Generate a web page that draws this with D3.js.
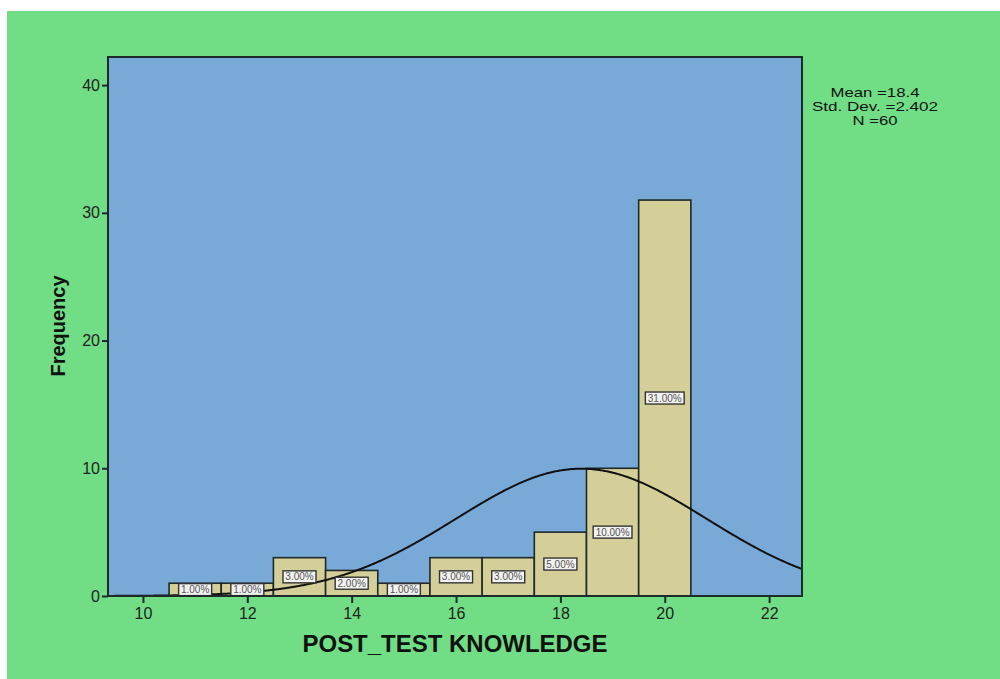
<!DOCTYPE html>
<html>
<head>
<meta charset="utf-8">
<script src="https://cdn.jsdelivr.net/npm/d3@7"></script>
<style>
  html, body { margin: 0; padding: 0; background: #ffffff; }
  svg { display: block; }
  text { font-family: "Liberation Sans", Arial, sans-serif; }
</style>
</head>
<body>
<svg id="chart" width="1000" height="679"></svg>
<script>
// Histogram of post-test knowledge scores (bins of width 1, centred on integers)
const binCenters = [11, 12, 13, 14, 15, 16, 17, 18, 19, 20];
const frequencies = [1, 1, 3, 2, 1, 3, 3, 5, 10, 31];
const barLabels = ["1.00%", "1.00%", "3.00%", "2.00%", "1.00%", "3.00%", "3.00%", "5.00%", "10.00%", "31.00%"];
const xTicks = [10, 12, 14, 16, 18, 20, 22];
const yTicks = [0, 10, 20, 30, 40];
const statLines = ["Mean =18.4", "Std. Dev. =2.402", "N =60"];
const mean = 18.4, stdDev = 2.402, n = 60, binWidth = 1;

const svg = d3.select("#chart");

// page background
svg.append("rect").attr("x", 7).attr("y", 11).attr("width", 993).attr("height", 668)
  .attr("fill", "#71de86");

const plot = { left: 108, top: 57, right: 802, bottom: 596 };

const x = d3.scaleLinear().domain([9.33, 22.63]).range([plot.left, plot.right]);
const y = d3.scaleLinear().domain([0, 42.2]).range([plot.bottom, plot.top]);

// plot area
svg.append("rect")
  .attr("x", plot.left).attr("y", plot.top)
  .attr("width", plot.right - plot.left).attr("height", plot.bottom - plot.top)
  .attr("fill", "#79a9d7");

const g = svg.append("g");

// bars
g.selectAll("rect.bar").data(binCenters).join("rect")
  .attr("class", "bar")
  .attr("x", (d) => x(d - binWidth / 2))
  .attr("width", (d) => x(d + binWidth / 2) - x(d - binWidth / 2))
  .attr("y", (d, i) => y(frequencies[i]))
  .attr("height", (d, i) => y(0) - y(frequencies[i]))
  .attr("fill", "#d4cf98")
  .attr("stroke", "#1d2a2a")
  .attr("stroke-width", 1.6);

// normal curve
const curveXs = d3.range(9.33, 22.631, 0.02);
const normal = (v) => n * binWidth / (stdDev * Math.sqrt(2 * Math.PI)) *
  Math.exp(-0.5 * Math.pow((v - mean) / stdDev, 2));
const clipId = "plotClip";
svg.append("clipPath").attr("id", clipId).append("rect")
  .attr("x", plot.left).attr("y", plot.top)
  .attr("width", plot.right - plot.left).attr("height", plot.bottom - plot.top);
g.append("path")
  .datum(curveXs)
  .attr("clip-path", `url(#${clipId})`)
  .attr("fill", "none")
  .attr("stroke", "#111")
  .attr("stroke-width", 2)
  .attr("d", d3.line().x((v) => x(v)).y((v) => y(normal(v))));

// value labels at bar mid-height
const labelG = g.selectAll("g.lbl").data(binCenters).join("g")
  .attr("class", "lbl")
  .attr("transform", (d, i) => `translate(${x(d)},${y(frequencies[i] / 2)})`);
labelG.append("rect")
  .attr("x", (d, i) => -(barLabels[i].length * 5.8 + 4) / 2)
  .attr("y", -6)
  .attr("width", (d, i) => barLabels[i].length * 5.8 + 4)
  .attr("height", 12)
  .attr("fill", "#f2f2f0")
  .attr("stroke", "#333")
  .attr("stroke-width", 1.4);
labelG.append("text")
  .attr("text-anchor", "middle")
  .attr("dy", "0.35em")
  .attr("font-size", 10)
  .attr("fill", "#555")
  .text((d, i) => barLabels[i]);

// frame
svg.append("rect")
  .attr("x", plot.left).attr("y", plot.top)
  .attr("width", plot.right - plot.left).attr("height", plot.bottom - plot.top)
  .attr("fill", "none").attr("stroke", "#1d2a2a").attr("stroke-width", 2);

// axes
const xAxis = svg.append("g").attr("transform", `translate(0,${plot.bottom})`)
  .call(d3.axisBottom(x).tickValues(xTicks).tickSize(7).tickPadding(5).tickFormat(d3.format("d")));
const yAxis = svg.append("g").attr("transform", `translate(${plot.left},0)`)
  .call(d3.axisLeft(y).tickValues(yTicks).tickSize(6).tickPadding(2).tickFormat(d3.format("d")));
[xAxis, yAxis].forEach((a) => {
  a.select(".domain").remove();
  a.selectAll(".tick line").attr("stroke", "#1d2a2a").attr("stroke-width", 2);
  a.selectAll(".tick text").attr("font-size", 16).attr("fill", "#222")
    .attr("font-family", "'Liberation Sans', Arial, sans-serif");
});

// axis titles
svg.append("text")
  .attr("x", 455).attr("y", 652)
  .attr("text-anchor", "middle")
  .attr("font-size", 23).attr("font-weight", "bold").attr("fill", "#111")
  .attr("textLength", 305).attr("lengthAdjust", "spacingAndGlyphs")
  .text("POST_TEST KNOWLEDGE");
svg.append("text")
  .attr("transform", "translate(65,326) rotate(-90)")
  .attr("text-anchor", "middle")
  .attr("font-size", 20).attr("font-weight", "bold").attr("fill", "#111")
  .text("Frequency");

// summary statistics (slightly widened lettering)
const statWidths = [89, 126, 45];
svg.append("g").selectAll("text").data(statLines).join("text")
  .attr("x", 875).attr("y", (d, i) => 97 + i * 14)
  .attr("text-anchor", "middle")
  .attr("font-size", 13).attr("fill", "#111")
  .attr("textLength", (d, i) => statWidths[i]).attr("lengthAdjust", "spacingAndGlyphs")
  .text((d) => d);
</script>
</body>
</html>
